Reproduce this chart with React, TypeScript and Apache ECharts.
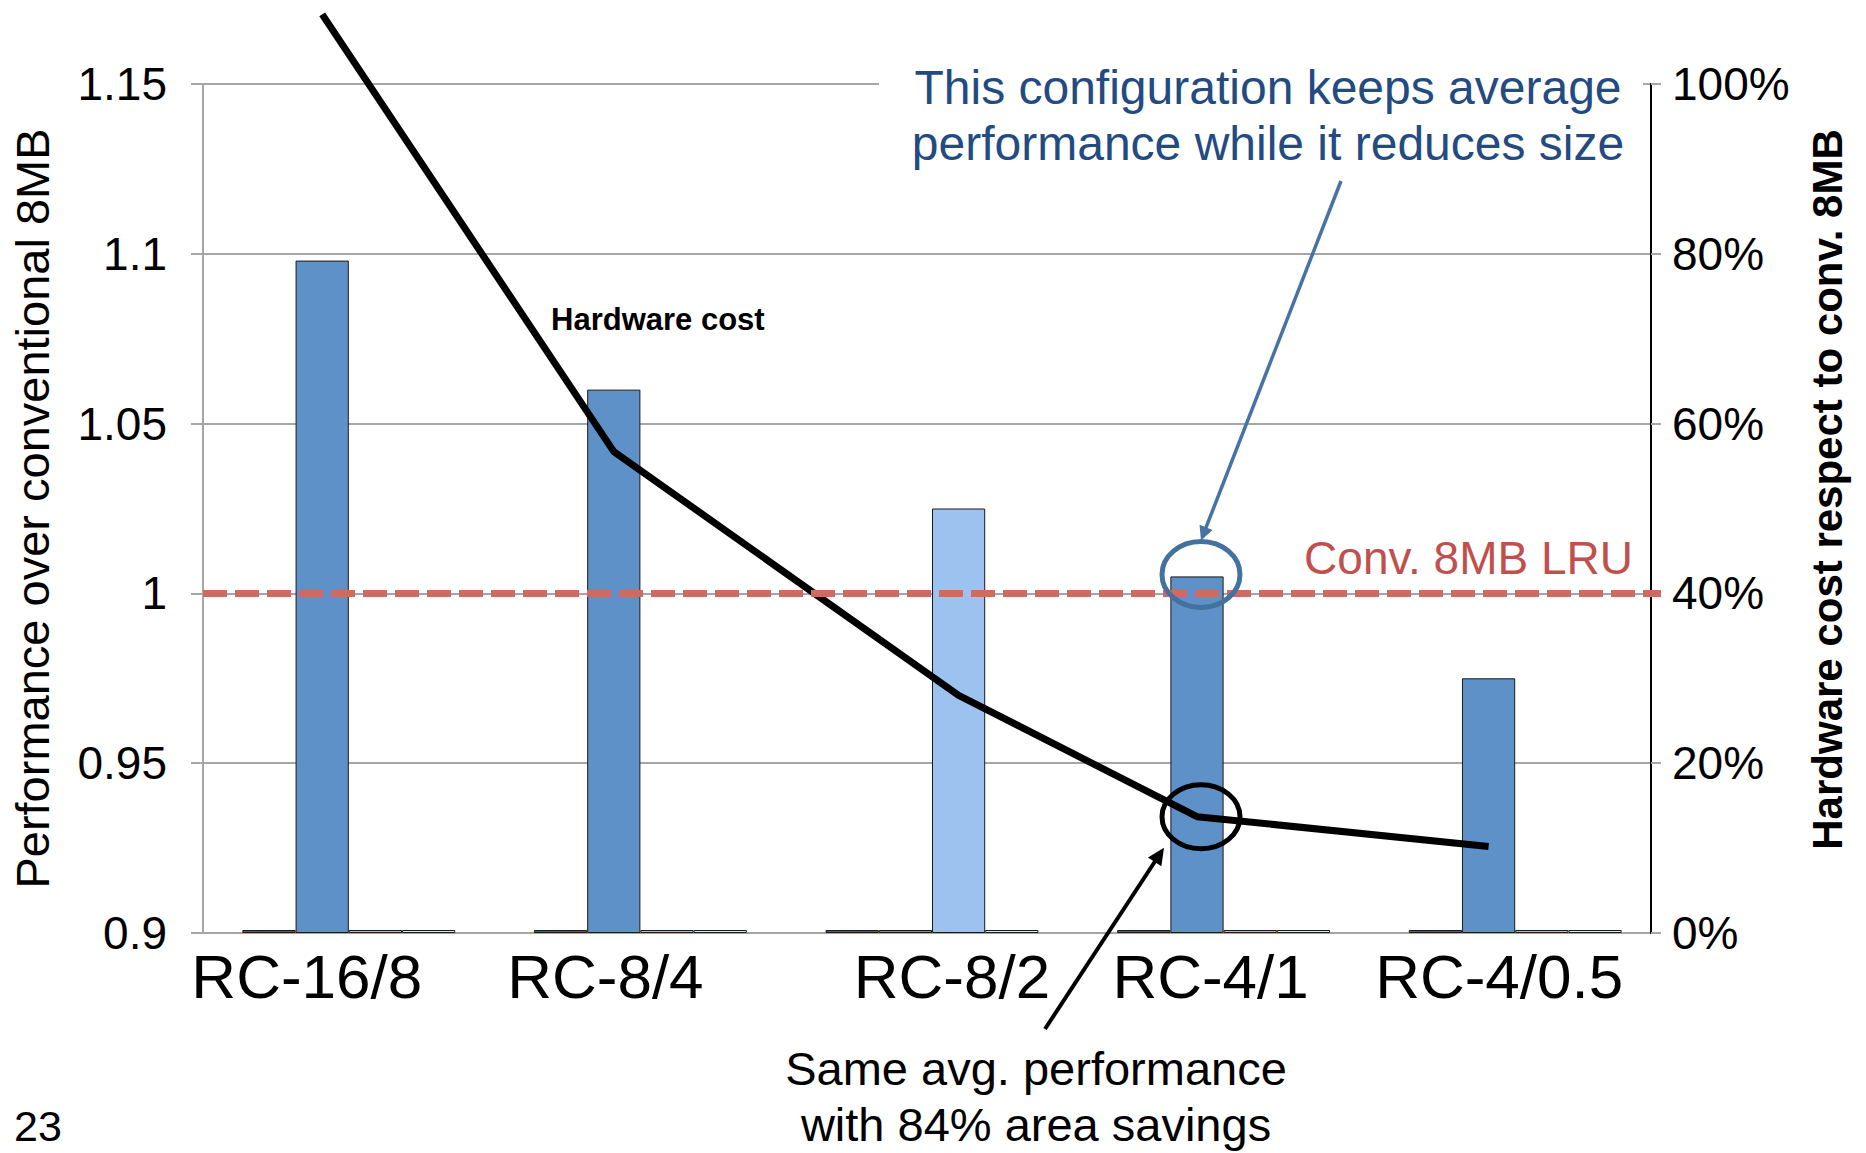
import React, { useEffect, useRef } from "react";
import * as echarts from "echarts";

// ---- data -----------------------------------------------------------------
const categories = ["RC-16/8", "RC-8/4", "RC-8/2", "RC-4/1", "RC-4/0.5"];

// Average performance normalised to a conventional 8MB LRU cache (left axis).
// Four bar slots per configuration; only one slot carries a value above the floor.
const perfSlot1 = [0.9, 0.9, 0.9, 0.9, 0.9];
const perfSlot2 = [1.098, 1.06, 0.9, 1.005, 0.975];
const perfSlot3 = [0.9, 0.9, 1.025, 0.9, 0.9];
const perfSlot4 = [0.9, 0.9, 0.9, 0.9, 0.9];

// Hardware cost relative to a conventional 8MB cache, in percent (right axis).
const hardwareCost = [108.2, 56.7, 28, 13.7, 10.2];

// Conventional 8MB LRU reference level.
const conventionalLevel = 1.001;

const perfAxis = { min: 0.9, max: 1.15, interval: 0.05 };
const costAxis = { min: 0, max: 100, interval: 20 };

// ---- layout / style -------------------------------------------------------
const FONT = '"Liberation Sans", Arial, Helvetica, sans-serif';
const GRID = { left: 203, top: 84, right: 205, bottom: 220 };
const BAR_CATEGORY_GAP = 0.27;
const SLOT_COLORS = ["#3c6491", "#5e91c8", "#9cc3ef", "#dde9f6"];
const GRID_GRAY = "#a6a6a6";
// horizontal shift (px) of each category label from its band centre
const labelNudge = [-42, -35, 20, -13, -16];

const slots = [perfSlot1, perfSlot2, perfSlot3, perfSlot4];
const slotWidth = (1 - BAR_CATEGORY_GAP) / slots.length;
const slotCenter = (k: number) =>
  0.5 - (slots.length * slotWidth) / 2 + (k + 0.5) * slotWidth;
// slot holding the measured bar of each configuration
const leadingSlot = categories.map((_, i) => {
  let best = 0;
  slots.forEach((s, k) => {
    if (s[i] > slots[best][i]) best = k;
  });
  return best;
});
const costPoints = hardwareCost.map((v, i) => [i + slotCenter(leadingSlot[i]), v]);

const nudgePadding = (d: number) => (d < 0 ? [0, -2 * d, 0, 0] : [0, 0, 0, 2 * d]);

function arrow(
  x1: number, y1: number, x2: number, y2: number,
  color: string, width: number, headLen: number, headHalf: number
) {
  const dx = x2 - x1;
  const dy = y2 - y1;
  const len = Math.hypot(dx, dy);
  const ux = dx / len;
  const uy = dy / len;
  const bx = x2 - ux * headLen;
  const by = y2 - uy * headLen;
  return [
    {
      type: "line",
      z: 50,
      shape: { x1, y1, x2: bx + ux * 2, y2: by + uy * 2 },
      style: { stroke: color, lineWidth: width },
    },
    {
      type: "polygon",
      z: 50,
      shape: {
        points: [
          [x2, y2],
          [bx - uy * headHalf, by + ux * headHalf],
          [bx + uy * headHalf, by - ux * headHalf],
        ],
      },
      style: { fill: color },
    },
  ];
}

export default function App() {
  const ref = useRef<HTMLDivElement>(null);

  useEffect(() => {
    if (!ref.current) return;
    const chart = echarts.init(ref.current, undefined, { renderer: "svg" });

    const barSeries = slots.map((data, k) => ({
      type: "bar",
      name: `slot ${k + 1}`,
      xAxisIndex: 0,
      yAxisIndex: 0,
      data,
      barGap: "0%",
      barCategoryGap: `${BAR_CATEGORY_GAP * 100}%`,
      barMinHeight: 3,
      itemStyle: { color: SLOT_COLORS[k], borderColor: "#1a1a1a", borderWidth: 1 },
      ...(k === 1
        ? {
            markLine: {
              silent: true,
              symbol: ["none", "none"],
              z: 10,
              lineStyle: { color: "#cf6a63", width: 7, type: [24, 8] },
              label: {
                show: true,
                position: "insideEndTop",
                formatter: "Conv. 8MB LRU",
                color: "#c0504d",
                fontSize: 46,
                fontFamily: FONT,
                distance: [28, 12],
              },
              data: [{ yAxis: conventionalLevel }],
            },
          }
        : {}),
    }));

    chart.setOption({
      animation: false,
      backgroundColor: "#ffffff",
      textStyle: { fontFamily: FONT },
      grid: { ...GRID, containLabel: false },
      xAxis: [
        {
          type: "category",
          data: categories.map((c, i) => ({
            value: c,
            textStyle: { padding: nudgePadding(labelNudge[i]) },
          })),
          axisLine: { show: false },
          axisTick: { show: false },
          axisLabel: {
            interval: 0,
            margin: 12,
            fontSize: 62,
            lineHeight: 62,
            color: "#000",
            fontFamily: FONT,
          },
          splitLine: { show: false },
        },
        { type: "value", min: 0, max: categories.length, show: false },
      ],
      yAxis: [
        {
          type: "value",
          position: "left",
          min: perfAxis.min,
          max: perfAxis.max,
          interval: perfAxis.interval,
          startValue: perfAxis.min,
          name: "Performance over conventional 8MB",
          nameLocation: "middle",
          nameGap: 147,
          nameTextStyle: { fontSize: 47, color: "#000", fontFamily: FONT },
          axisLine: { show: true, lineStyle: { color: GRID_GRAY, width: 2 } },
          axisTick: { show: true, inside: false, length: 12, lineStyle: { color: GRID_GRAY, width: 2 } },
          axisLabel: { fontSize: 46, margin: 36, color: "#000", fontFamily: FONT },
          splitLine: { show: true, lineStyle: { color: GRID_GRAY, width: 2 } },
        },
        {
          type: "value",
          position: "right",
          offset: -10,
          min: costAxis.min,
          max: costAxis.max,
          interval: costAxis.interval,
          name: "Hardware cost respect to conv. 8MB",
          nameLocation: "middle",
          nameGap: 155,
          nameRotate: 90,
          nameTextStyle: {
            fontSize: 42,
            fontWeight: "bold",
            color: "#000",
            fontFamily: FONT,
            padding: [0, 0, 0, 38],
          },
          axisLine: { show: true, lineStyle: { color: "#000", width: 2 } },
          axisTick: { show: true, length: 10, lineStyle: { color: GRID_GRAY, width: 2 } },
          axisLabel: { formatter: "{value}%", fontSize: 46, margin: 21, color: "#000", fontFamily: FONT },
          splitLine: { show: false },
        },
      ],
      series: [
        ...barSeries,
        {
          type: "line",
          name: "Hardware cost",
          xAxisIndex: 1,
          yAxisIndex: 1,
          data: costPoints,
          symbol: "none",
          clip: false,
          z: 6,
          lineStyle: { color: "#000", width: 7, join: "bevel" },
        },
      ],
    });

    // annotation anchors taken from the chart's own scales
    const focus = 3; // RC-4/1
    const fx = chart.convertToPixel({ xAxisIndex: 1 }, costPoints[focus][0]) as number;
    const barTopY = chart.convertToPixel(
      { yAxisIndex: 0 },
      slots[leadingSlot[focus]][focus]
    ) as number;
    const costY = chart.convertToPixel({ yAxisIndex: 1 }, hardwareCost[focus]) as number;

    const blue = { cx: fx + 4, cy: barTopY - 2, rx: 39, ry: 33 };
    const black = { cx: fx + 4, cy: costY, rx: 39, ry: 32 };

    chart.setOption({
      graphic: [
        {
          type: "rect",
          z: 40,
          shape: { x: 879, y: 62, width: 764, height: 48 },
          style: { fill: "#ffffff" },
        },
        {
          type: "text",
          z: 45,
          x: 1268,
          y: 115,
          style: {
            text: "This configuration keeps average\nperformance while it reduces size",
            fill: "#234b82",
            fontSize: 48,
            fontFamily: FONT,
            align: "center",
            verticalAlign: "middle",
            lineHeight: 56,
          },
        },
        {
          type: "text",
          z: 45,
          x: 551,
          y: 319,
          style: {
            text: "Hardware cost",
            fill: "#000",
            fontSize: 31,
            fontWeight: "bold",
            fontFamily: FONT,
            align: "left",
            verticalAlign: "middle",
          },
        },
        {
          type: "ellipse",
          z: 50,
          shape: blue,
          style: { fill: "none", stroke: "#44729f", lineWidth: 5 },
        },
        ...arrow(1341, 181, blue.cx, blue.cy - blue.ry - 1, "#4672a4", 3.5, 14, 7),
        {
          type: "ellipse",
          z: 50,
          shape: black,
          style: { fill: "none", stroke: "#000", lineWidth: 5 },
        },
        ...arrow(1045, 1029, black.cx - 37, black.cy + 31, "#000", 4, 17, 8),
        {
          type: "text",
          z: 45,
          x: 1036,
          y: 1096,
          style: {
            text: "Same avg. performance\nwith 84% area savings",
            fill: "#000",
            fontSize: 47,
            fontFamily: FONT,
            align: "center",
            verticalAlign: "middle",
            lineHeight: 56,
          },
        },
        {
          type: "text",
          z: 45,
          x: 14,
          y: 1126,
          style: {
            text: "23",
            fill: "#000",
            fontSize: 43,
            fontFamily: FONT,
            align: "left",
            verticalAlign: "middle",
          },
        },
      ],
    });

    return () => chart.dispose();
  }, []);

  return (
    <div
      ref={ref}
      style={{ position: "fixed", left: 0, top: 0, width: 1866, height: 1153, background: "#fff" }}
    />
  );
}
